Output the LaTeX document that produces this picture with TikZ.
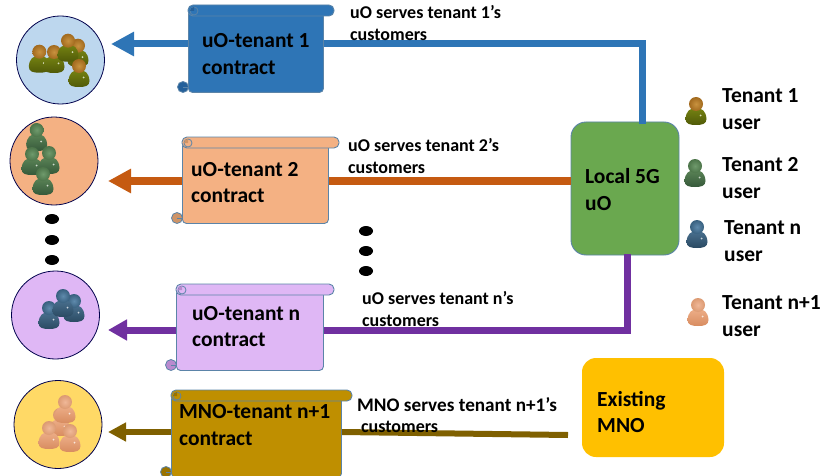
\documentclass[tikz,border=0pt]{standalone}
\usepackage{fontspec}
\setmainfont{Carlito}
\usetikzlibrary{arrows.meta,shapes.geometric}

\definecolor{edgeblue}{HTML}{5B84A8}
\definecolor{tenantblue}{HTML}{2E75B6}
\definecolor{curlblue}{HTML}{24609A}
\definecolor{lightblue}{HTML}{BDD7EE}
\definecolor{lineorange}{HTML}{C55A11}
\definecolor{tenantorange}{HTML}{F4B183}
\definecolor{curlorange}{HTML}{CE9468}
\definecolor{linepurple}{HTML}{7030A0}
\definecolor{tenantpurple}{HTML}{DFB7F5}
\definecolor{curlpurple}{HTML}{B98ACF}
\definecolor{linebrown}{HTML}{7F6000}
\definecolor{tenantgold}{HTML}{BF8F00}
\definecolor{curlgold}{HTML}{9A7300}
\definecolor{lightyellow}{HTML}{FFD966}
\definecolor{uogreen}{HTML}{6AA84F}
\definecolor{mnoyellow}{HTML}{FFC000}
% head light, head dark, body light, body dark
\definecolor{headone}{HTML}{C8923F}
\definecolor{headoned}{HTML}{A26A1E}
\definecolor{bodyone}{HTML}{758212}
\definecolor{bodyoned}{HTML}{505A08}
\definecolor{headtwo}{HTML}{6F9A6C}
\definecolor{headtwod}{HTML}{4C7449}
\definecolor{bodytwo}{HTML}{5A8356}
\definecolor{bodytwod}{HTML}{36593A}
\definecolor{headn}{HTML}{5F8AAC}
\definecolor{headnd}{HTML}{38607F}
\definecolor{bodyn}{HTML}{4A708F}
\definecolor{bodynd}{HTML}{2A4A62}
\definecolor{headlast}{HTML}{F0B898}
\definecolor{headlastd}{HTML}{DC9A72}
\definecolor{bodylast}{HTML}{EDAE88}
\definecolor{bodylastd}{HTML}{D88C60}

\tikzset{
  bigtext/.style={anchor=west,align=left,inner sep=0pt,font=\fontsize{21.5}{26.5}\selectfont\bfseries},
  smalltext/.style={anchor=west,align=left,inner sep=0pt,font=\fontsize{18}{21.5}\selectfont\bfseries},
  tenantcircle/.style={circle,draw=black!70!blue,line width=0.8pt,minimum size=88pt,inner sep=0pt},
  dotmark/.style={ellipse,fill=black,minimum width=14pt,minimum height=10pt,inner sep=0pt},
  scrollbox/.style={draw=edgeblue,line width=0.9pt,rounded corners=4pt,inner sep=0pt,anchor=north west},
  pics/person/.style n args={4}{code={
    \shade[top color=#3,bottom color=#4] (-10.5,15) .. controls (-10,7) and (-6,4) .. (0,4)
      .. controls (6,4) and (10,7) .. (10.5,15) .. controls (10.5,20) and (6,21) .. (0,21)
      .. controls (-6,21) and (-10.5,20) .. (-10.5,15) -- cycle;
    \shade[inner color=#1,outer color=#2] (0,0) circle (7);
    \fill[white!70!#3] (4.5,11.5) circle (1);
  }},
}

% name, left, top of roll, right, bottom, fill, curl fill
\newcommand{\contractscroll}[7]{
  \node[scrollbox,fill=#6,minimum width={(#4-#2)*1pt},minimum height={(#5-#3-5)*1pt}] (#1) at (#2,#3+5) {};
  \draw[draw=edgeblue,line width=0.9pt,fill=#6,rounded corners=5pt] (#2,#3) rectangle (#4+11,#3+11);
  \draw[draw=edgeblue,line width=0.8pt,fill=#6] (#2+6,#3+6) circle (4);
  \fill[#7] (#2+6,#3+6) -- (#2+2,#3+6) arc (180:270:4) -- cycle;
  \draw[draw=edgeblue,line width=0.8pt,fill=#7] (#2-5,#5-5) circle (5.5);
  \draw[draw=edgeblue,line width=0.6pt] (#2-5,#5-5) -- (#2,#5-5);
}

\begin{document}
\begin{tikzpicture}[x=1pt,y=-1pt]
\useasboundingbox (0,0) rectangle (824,476);

\node[draw=edgeblue,line width=0.9pt,fill=uogreen,rounded corners=15pt,minimum width=108pt,minimum height=133pt,inner sep=0pt] (uo) at (625,188.5) {};
\node[fill=mnoyellow,rounded corners=14pt,minimum width=142pt,minimum height=99pt,inner sep=0pt] (mno) at (653,407.5) {};

\coordinate (tipblue) at (111,44);
\coordinate (tiporange) at (108,181);
\coordinate (tippurple) at (108,330);
\coordinate (tipbrown) at (108,432);
\coordinate (uotop) at (642,124);
\coordinate (uobottom) at (627,254);
\coordinate (mnoleft) at (568,435);

% tenant circles
\node[tenantcircle,fill=lightblue] (circleblue) at (60.5,60) {};
\node[tenantcircle,fill=tenantorange] (circleorange) at (54,161) {};
\node[tenantcircle,fill=tenantpurple] (circlepurple) at (55.5,315) {};
\node[tenantcircle,fill=lightyellow] (circleyellow) at (58,424.5) {};

% contracts
\contractscroll{contractblue}{188}{5}{323}{92}{tenantblue}{curlblue}
\contractscroll{contractorange}{182}{137}{328}{223}{tenantorange}{curlorange}
\contractscroll{contractpurple}{176}{284}{323}{370}{tenantpurple}{curlpurple}
\contractscroll{contractgold}{171}{390}{341}{477}{tenantgold}{curlgold}

\node[bigtext] (textblue) at (202,54) {uO-tenant 1\\contract};
\node[bigtext] (textorange) at (191,182.5) {uO-tenant 2\\contract};
\node[bigtext] (textpurple) at (192,326.5) {uO-tenant n\\contract};
\node[bigtext] (textgold) at (179,425) {MNO-tenant n+1\\contract};

% connectors
\draw[tenantblue,line width=7pt] (uotop) |- (contractblue.east |- tipblue);
\draw[tenantblue,line width=7pt,-{Triangle[length=23pt,width=23pt]}] (contractblue.west |- tipblue) -- (tipblue);
\draw[lineorange,line width=8pt] (uo.west |- tiporange) -- (contractorange.east |- tiporange);
\draw[lineorange,line width=8pt,-{Triangle[length=23pt,width=23pt]}] (contractorange.west |- tiporange) -- (tiporange);
\draw[linepurple,line width=7pt] (uobottom) |- (contractpurple.east |- tippurple);
\draw[linepurple,line width=7pt,-{Triangle[length=19pt,width=20pt]}] (contractpurple.west |- tippurple) -- (tippurple);
\draw[linebrown,line width=6pt] (mnoleft) -- (contractgold.east |- tipbrown);
\draw[linebrown,line width=6pt,-{Triangle[length=18pt,width=18pt]}] (contractgold.west |- tipbrown) -- (tipbrown);

% groups of users
\foreach \px/\py in {39.3/51.7,54/52,78/45.7,68/40.7,79/66}
  \pic at (\px,\py) {person={headone}{headoned}{bodyone}{bodyoned}};
\foreach \px/\py in {36.7/130,32/154,49/153,43/174}
  \pic at (\px,\py) {person={headtwo}{headtwod}{bodytwo}{bodytwod}};
\foreach \px/\py in {49/308,74/301,63/296}
  \pic at (\px,\py) {person={headn}{headnd}{bodyn}{bodynd}};
\foreach \px/\py in {60/415,65/402,49/428,70/431}
  \pic at (\px,\py) {person={headlast}{headlastd}{bodylast}{bodylastd}};

% legend
\pic at (696,104) {person={headone}{headoned}{bodyone}{bodyoned}};
\pic at (695,166) {person={headtwo}{headtwod}{bodytwo}{bodytwod}};
\pic at (697,227) {person={headn}{headnd}{bodyn}{bodynd}};
\pic at (698,305) {person={headlast}{headlastd}{bodylast}{bodylastd}};

\node[bigtext] (legendone) at (722,109) {Tenant 1\\user};
\node[bigtext] (legendtwo) at (722,178) {Tenant 2\\user};
\node[bigtext] (legendn) at (724,241) {Tenant n\\user};
\node[bigtext] (legendlast) at (722,316) {Tenant n+1\\user};

\node[bigtext] (uotext) at (585,189.5) {Local 5G\\uO};
\node[bigtext] (mnotext) at (597,412) {Existing\\MNO};

\node[smalltext] (servesone) at (350,23) {uO serves tenant 1’s\\customers};
\node[smalltext] (servestwo) at (348,156) {uO serves tenant 2’s\\customers};
\node[smalltext] (servesn) at (362,309) {uO serves tenant n’s\\customers};
\node[smalltext] (serveslast) at (357,415) {{\fontsize{19.2}{21.5}\selectfont MNO serves tenant n+1’s}\\\hspace*{4pt}customers};

% the three dots
\foreach \py [count=\i] in {219,240,260}
  \node[dotmark] (dotleft\i) at (52,\py) {};
\foreach \py [count=\i] in {231,251,271}
  \node[dotmark] (dotright\i) at (366,\py) {};

\end{tikzpicture}
\end{document}
